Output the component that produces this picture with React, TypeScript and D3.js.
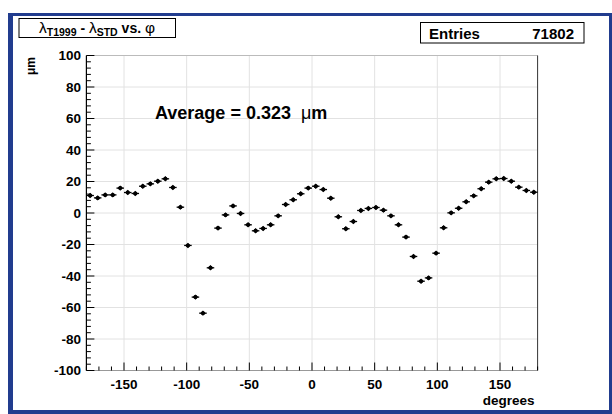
import React from "react";
import * as d3 from "d3";

const phiCenters = [
  -177, -171, -165, -159, -153, -147, -141, -135, -129, -123,
  -117, -111, -105, -99, -93, -87, -81, -75, -69, -63,
  -57, -51, -45, -39, -33, -27, -21, -15, -9, -3,
  3, 9, 15, 21, 27, 33, 39, 45, 51, 57,
  63, 69, 75, 81, 87, 93, 99, 105, 111, 117,
  123, 129, 135, 141, 147, 153, 159, 165, 171, 177,
];
const deltaLambda = [
  11.1, 9.6, 11.5, 11.5, 15.8, 13.0, 12.4, 17.0, 18.5, 20.2,
  21.7, 16.2, 3.7, -20.6, -53.4, -63.6, -34.8, -9.6, -1.2, 4.5,
  -0.3, -7.5, -11.3, -9.8, -7.5, -1.8, 5.4, 8.4, 12.2, 15.8,
  17.0, 14.9, 9.4, -2.4, -10.0, -5.4, 1.6, 2.9, 3.5, 1.8,
  -1.8, -7.5, -15.3, -27.6, -43.3, -41.2, -25.5, -9.4, 0.1, 3.0,
  7.1, 10.9, 15.4, 19.6, 21.7, 21.9, 20.2, 16.4, 14.3, 13.2,
];
const xTicks = [-150, -100, -50, 0, 50, 100, 150];
const yTicks = [-100, -80, -60, -40, -20, 0, 20, 40, 60, 80, 100];
const binWidth = 6;
const entries = "71802";
const average = "0.323";

const W = 612;
const H = 414;
const L = 86.4;
const R = 537.6;
const T = 55.5;
const B = 370.5;
const BLUE = "#213c8e";
const FONT = "'Liberation Sans', Arial, Helvetica, sans-serif";

export default function App() {
  const x = d3.scaleLinear().domain([-180, 180]).range([L, R]);
  const y = d3.scaleLinear().domain([-100, 100]).range([B, T]);
  const xMinor = d3.range(-180, 181, 10).filter((v) => !xTicks.includes(v));
  const yMinor = d3.range(-100, 101, 4).filter((v) => !yTicks.includes(v));
  const halfPx = (x(binWidth) - x(0)) / 2;

  return (
    <div style={{ position: "fixed", left: 0, top: 0 }}>
      <svg width={W} height={H} style={{ display: "block" }} fontFamily={FONT}>
        <rect x={0} y={0} width={W} height={H} fill="white" />
        {/* canvas frame */}
        <rect x={8} y={13} width={5} height={401} fill={BLUE} />
        <rect x={8} y={13} width={604} height={3} fill={BLUE} />
        <rect x={609} y={13} width={3} height={401} fill={BLUE} />
        <rect x={8} y={410} width={604} height={4} fill={BLUE} />

        {/* grid */}
        {xTicks.map((v) => (
          <line key={"gx" + v} x1={x(v)} x2={x(v)} y1={T} y2={B} stroke="#e2e2e2" strokeWidth={1} />
        ))}
        {yTicks.map((v) => (
          <line key={"gy" + v} x1={L} x2={R} y1={y(v)} y2={y(v)} stroke="#e2e2e2" strokeWidth={1} />
        ))}

        {/* frame */}
        <line x1={L} x2={R} y1={T} y2={T} stroke="#bbbbbb" strokeWidth={1} />
        <line x1={R} x2={R} y1={T} y2={B} stroke="#333" strokeWidth={1} />
        <line x1={L} x2={R} y1={B} y2={B} stroke="#999" strokeWidth={1} />
        <line x1={L} x2={L} y1={T} y2={B} stroke="black" strokeWidth={1.2} />

        {/* y ticks */}
        {yTicks.map((v) => (
          <line key={"ty" + v} x1={L} x2={L + 8} y1={y(v)} y2={y(v)} stroke="black" strokeWidth={1} />
        ))}
        {yMinor.map((v) => (
          <line key={"tym" + v} x1={L} x2={L + 4.5} y1={y(v)} y2={y(v)} stroke="black" strokeWidth={1} />
        ))}
        {/* x ticks */}
        {xTicks.map((v) => (
          <line key={"tx" + v} x1={x(v)} x2={x(v)} y1={B} y2={B - 8} stroke="black" strokeWidth={1} />
        ))}
        {xMinor.map((v) => (
          <line key={"txm" + v} x1={x(v)} x2={x(v)} y1={B} y2={B - 4} stroke="black" strokeWidth={1} />
        ))}

        {/* y labels */}
        {yTicks.map((v) => (
          <text key={"ly" + v} x={81} y={y(v) + 4.8} textAnchor="end" fontSize={13.5} fontWeight="bold">
            {v}
          </text>
        ))}
        {/* x labels */}
        {xTicks.map((v) => (
          <text key={"lx" + v} x={x(v)} y={389} textAnchor="middle" fontSize={13.5} fontWeight="bold">
            {v}
          </text>
        ))}
        <text x={534.5} y={405} textAnchor="end" fontSize={13.5} fontWeight="bold">
          degrees
        </text>
        <text transform={`translate(35,57) rotate(-90)`} textAnchor="end" fontSize={12} fontWeight="bold">
          μm
        </text>

        {/* data */}
        {phiCenters.map((p, i) => {
          const cx = x(p);
          const cy = y(deltaLambda[i]);
          return (
            <g key={"pt" + i}>
              <line x1={cx - halfPx} x2={cx + halfPx} y1={cy} y2={cy} stroke="black" strokeWidth={1.3} />
              <path d={`M${cx},${cy - 2.7}L${cx + 2.7},${cy}L${cx},${cy + 2.7}L${cx - 2.7},${cy}Z`} fill="black" />
              <circle cx={cx} cy={cy} r={2} fill="black" />
            </g>
          );
        })}

        {/* average text */}
        <text x={155} y={119} fontSize={18} fontWeight="bold">
          {`Average = ${average}\u00a0\u00a0`}
          <tspan fontWeight="normal">μ</tspan>
          <tspan>m</tspan>
        </text>

        {/* title box */}
        <rect x={19} y={18.5} width={156.5} height={19} fill="white" stroke="black" strokeWidth={1} />
        <text x={97} y={33} textAnchor="middle" fontSize={14} fontWeight="bold">
          <tspan fontWeight="normal" fontSize={15.5}>λ</tspan>
          <tspan fontSize={10.5} dy={3}>T1999</tspan>
          <tspan dy={-3}>{"\u00a0-\u00a0"}</tspan>
          <tspan fontWeight="normal" fontSize={15.5}>λ</tspan>
          <tspan fontSize={10.5} dy={3}>STD</tspan>
          <tspan dy={-3}>{"\u00a0vs.\u00a0"}</tspan>
          <tspan fontWeight="normal" fontSize={15.5}>φ</tspan>
        </text>

        {/* entries box */}
        <rect x={420.5} y={22.5} width={163.5} height={20.5} fill="white" stroke="black" strokeWidth={1} />
        <text x={429} y={38.5} fontSize={15} fontWeight="bold">
          Entries
        </text>
        <text x={574} y={38.5} textAnchor="end" fontSize={15} fontWeight="bold">
          {entries}
        </text>
      </svg>
    </div>
  );
}
